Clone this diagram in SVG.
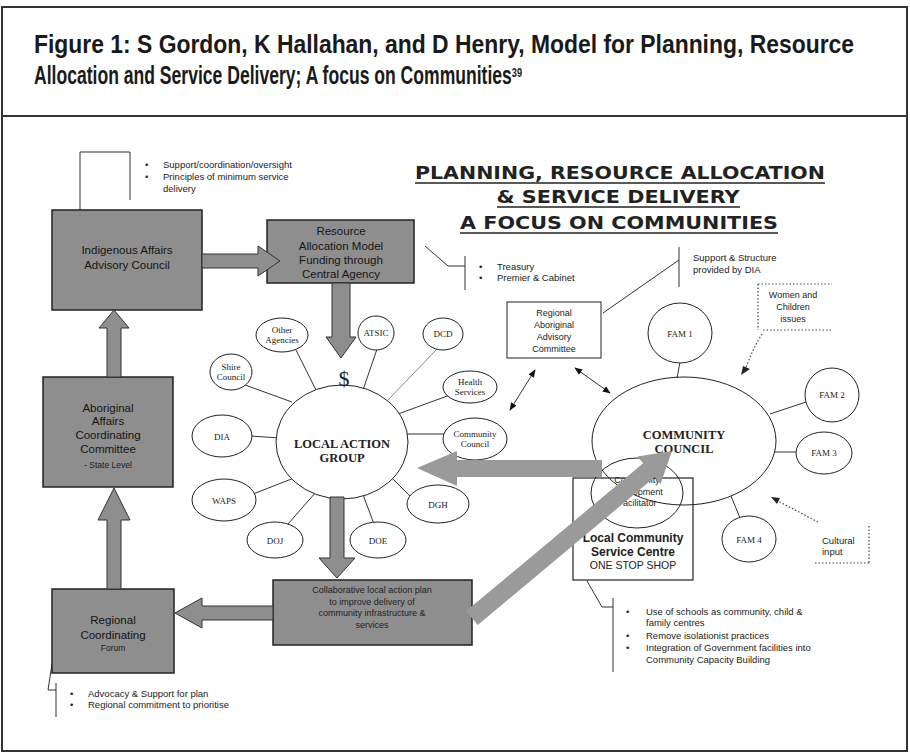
<svg xmlns="http://www.w3.org/2000/svg" width="910" height="752" viewBox="0 0 910 752">
<defs>
<style>
.ttl{font-family:"Liberation Sans Narrow","Liberation Sans",Arial,sans-serif;font-weight:bold;font-size:25px;fill:#1a1a1a}
.big{font-family:"DejaVu Sans",Verdana,sans-serif;font-weight:bold;font-size:18px;fill:#222;text-anchor:middle}
.bx{fill:#8e8e8e;stroke:#222;stroke-width:1.5}
.bt{font-family:"Liberation Sans",Arial,sans-serif;font-size:11.5px;fill:#151515;text-anchor:middle}
.st{font-family:"Liberation Sans",Arial,sans-serif;font-size:8.5px;fill:#1c1c1c;text-anchor:middle}
.sm{font-family:"Liberation Sans",Arial,sans-serif;font-size:9.5px;fill:#222}
.smc{font-family:"Liberation Sans",Arial,sans-serif;font-size:9px;fill:#222;text-anchor:middle}
.sat{fill:#fff;stroke:#222;stroke-width:1}
.ser{font-family:"Liberation Serif","Times New Roman",serif;font-size:9px;fill:#222;text-anchor:middle}
.serb{font-family:"Liberation Serif","Times New Roman",serif;font-size:12.5px;font-weight:bold;fill:#222;text-anchor:middle}
.ln{stroke:#333;stroke-width:1;fill:none}
.dot{stroke:#444;stroke-width:1.2;stroke-dasharray:1.5 2;fill:none}
.ga{fill:#8e8e8e;stroke:#333;stroke-width:1}
.gb{fill:#9a9a9a;stroke:none}
</style>
<marker id="ah" viewBox="0 0 10 10" refX="9" refY="5" markerWidth="8" markerHeight="8" markerUnits="userSpaceOnUse" orient="auto-start-reverse"><path d="M0,1 L10,5 L0,9 z" fill="#111"/></marker>
</defs>
<rect x="0" y="0" width="910" height="752" fill="#fff"/>
<rect x="2" y="7" width="905" height="744" fill="none" stroke="#333" stroke-width="2"/>
<line x1="2" y1="116" x2="907" y2="116" stroke="#333" stroke-width="2"/>
<g id="title">
<text class="ttl" x="34" y="53" textLength="820" lengthAdjust="spacingAndGlyphs">Figure 1: S Gordon, K Hallahan, and D Henry, Model for Planning, Resource</text>
<text class="ttl" x="34" y="84" textLength="488" lengthAdjust="spacingAndGlyphs">Allocation and Service Delivery; A focus on Communities<tspan font-size="13" baseline-shift="super">39</tspan></text>
</g>
<g id="heading">
<text class="big" x="620" y="179" textLength="410" lengthAdjust="spacingAndGlyphs">PLANNING, RESOURCE ALLOCATION</text>
<line x1="415" y1="183" x2="825" y2="183" stroke="#222" stroke-width="1.5"/>
<text class="big" x="618" y="203" textLength="243" lengthAdjust="spacingAndGlyphs">&amp; SERVICE DELIVERY</text>
<line x1="497" y1="207" x2="740" y2="207" stroke="#222" stroke-width="1.5"/>
<text class="big" x="619" y="229" textLength="318" lengthAdjust="spacingAndGlyphs">A FOCUS ON COMMUNITIES</text>
<line x1="460" y1="233" x2="778" y2="233" stroke="#222" stroke-width="1.5"/>
</g>
<g id="connectors">
<path class="ln" d="M80,210 V152 H130 V200"/>
<path class="ln" d="M425,246 L448,266 H465 M465,256 V290"/>
<path class="ln" d="M603,313 L679,260 M679,247 V287"/>
<path class="ln" d="M587,581 L602,607 H613 M613,598 V672"/>
<path class="ln" d="M52,664 L48,690 H56 M56,683 V717"/>
<path class="ln" d="M296,350 L317,392"/>
<path class="ln" d="M377,349 L363,390"/>
<path d="M437,349 L388,400" stroke="#888" stroke-width="1" fill="none"/>
<path class="ln" d="M245,385 L292,402"/>
<path class="ln" d="M450,395 L398,414"/>
<path class="ln" d="M445,434 L405,434"/>
<path class="ln" d="M250,436 L280,438"/>
<path class="ln" d="M253,494 L294,478"/>
<path class="ln" d="M288,524 L316,492"/>
<path class="ln" d="M374,524 L362,492"/>
<path class="ln" d="M414,500 L390,476"/>
<path class="ln" d="M680,362 L677,378"/>
<path class="ln" d="M806,402 L770,414"/>
<path class="ln" d="M796,452 L775,452"/>
<path class="ln" d="M740,518 L731,496"/>
<line class="ln" x1="535" y1="370" x2="510" y2="410" marker-start="url(#ah)" marker-end="url(#ah)"/>
<line class="ln" x1="575" y1="368" x2="610" y2="393" marker-start="url(#ah)" marker-end="url(#ah)"/>
<path class="dot" d="M762,334 Q752,350 746,368"/>
<path d="M741,375 L743,366 L750,369 z" fill="#222"/>
<path class="dot" d="M818,522 L778,501"/>
<path d="M771,497 L780,498 L777,504 z" fill="#222"/>
</g>
<g id="indigenous">
<rect class="bx" x="52" y="210" width="150" height="100"/>
<text class="bt" x="127" y="254">Indigenous Affairs</text>
<text class="bt" x="127" y="269">Advisory Council</text>
</g>
<g id="resource">
<rect class="bx" x="267" y="220" width="147" height="63"/>
<text class="bt" x="341" y="235">Resource</text>
<text class="bt" x="341" y="250">Allocation Model</text>
<text class="bt" x="341" y="264">Funding through</text>
<text class="bt" x="341" y="278">Central Agency</text>
</g>
<g id="aboriginal">
<rect class="bx" x="43" y="377" width="130" height="110"/>
<text class="bt" x="108" y="412" font-size="12">Aboriginal</text>
<text class="bt" x="108" y="425" font-size="12">Affairs</text>
<text class="bt" x="108" y="439" font-size="12">Coordinating</text>
<text class="bt" x="108" y="453" font-size="12">Committee</text>
<text class="st" x="108" y="468">- State Level</text>
</g>
<g id="regional">
<rect class="bx" x="52" y="589" width="122" height="84"/>
<text class="bt" x="113" y="624" font-size="12">Regional</text>
<text class="bt" x="113" y="639" font-size="12">Coordinating</text>
<text class="st" x="113" y="651">Forum</text>
</g>
<g id="collaborative">
<rect class="bx" x="273" y="580" width="199" height="65"/>
<text class="smc" x="372" y="593">Collaborative local action plan</text>
<text class="smc" x="372" y="605">to improve delivery of</text>
<text class="smc" x="372" y="616">community infrastructure &amp; </text>
<text class="smc" x="372" y="628">services</text>
</g>
<g id="lag">
<ellipse class="sat" cx="342" cy="442" rx="66" ry="57"/>
<text class="serb" x="342" y="448">LOCAL ACTION</text>
<text class="serb" x="342" y="462">GROUP</text>
<text x="344" y="386" font-family="Liberation Serif,serif" font-size="22" fill="#222" text-anchor="middle">$</text>
</g>
<g id="other"><ellipse class="sat" cx="282" cy="335" rx="26" ry="17"/><text class="ser" x="282" y="333" font-size="8">Other</text><text class="ser" x="282" y="343" font-size="8">Agencies</text></g>
<g id="atsic"><ellipse class="sat" cx="376" cy="333" rx="18" ry="17"/><text class="ser" x="376" y="336">ATSIC</text></g>
<g id="dcd"><ellipse class="sat" cx="443" cy="334" rx="20" ry="16"/><text class="ser" x="443" y="337">DCD</text></g>
<g id="shire"><ellipse class="sat" cx="231" cy="372" rx="21" ry="18"/><text class="ser" x="231" y="370" font-size="8">Shire</text><text class="ser" x="231" y="380" font-size="8">Council</text></g>
<g id="health"><ellipse class="sat" cx="470" cy="387" rx="27" ry="16"/><text class="ser" x="470" y="385" font-size="8">Health</text><text class="ser" x="470" y="395" font-size="8">Services</text></g>
<g id="commcouncil"><ellipse class="sat" cx="475" cy="439" rx="32" ry="21"/><text class="ser" x="475" y="437" font-size="8">Community</text><text class="ser" x="475" y="447" font-size="8">Council</text></g>
<g id="dia"><ellipse class="sat" cx="222" cy="436" rx="30" ry="21"/><text class="ser" x="222" y="440">DIA</text></g>
<g id="waps"><ellipse class="sat" cx="224" cy="500" rx="32" ry="21"/><text class="ser" x="224" y="504">WAPS</text></g>
<g id="doj"><ellipse class="sat" cx="275" cy="540" rx="28" ry="18"/><text class="ser" x="275" y="544">DOJ</text></g>
<g id="doe"><ellipse class="sat" cx="378" cy="540" rx="28" ry="18"/><text class="ser" x="378" y="544">DOE</text></g>
<g id="dgh"><ellipse class="sat" cx="438" cy="504" rx="31" ry="19"/><text class="ser" x="438" y="508">DGH</text></g>
<g id="raac">
<rect x="507" y="302" width="94" height="56" fill="#fff" stroke="#222" stroke-width="1"/>
<text class="smc" x="554" y="316">Regional</text>
<text class="smc" x="554" y="328">Aboriginal</text>
<text class="smc" x="554" y="340">Advisory</text>
<text class="smc" x="554" y="352">Committee</text>
</g>
<g id="community">
<ellipse cx="684" cy="441" rx="92" ry="64" fill="none" stroke="#222" stroke-width="1"/>
<text class="serb" x="684" y="439">COMMUNITY</text>
<text class="serb" x="684" y="453">COUNCIL</text>
</g>
<g id="fam1"><ellipse class="sat" cx="680" cy="333" rx="32" ry="30"/><text class="ser" x="680" y="337">FAM 1</text></g>
<g id="fam2"><ellipse class="sat" cx="832" cy="395" rx="27" ry="27"/><text class="ser" x="832" y="398">FAM 2</text></g>
<g id="fam3"><ellipse class="sat" cx="824" cy="453" rx="28" ry="21"/><text class="ser" x="824" y="456">FAM 3</text></g>
<g id="fam4"><ellipse class="sat" cx="749" cy="539" rx="27" ry="23"/><text class="ser" x="749" y="543">FAM 4</text></g>
<g id="facilitator">
<ellipse cx="637" cy="493" rx="46" ry="35" fill="none" stroke="#222" stroke-width="1"/>
<text class="smc" x="637" y="483">Community</text>
<text class="smc" x="637" y="495">development</text>
<text class="smc" x="637" y="506">Facilitator</text>
</g>
<g id="lcsc">
<rect x="573" y="478" width="120" height="102" fill="none" stroke="#222" stroke-width="1.2"/>
<text x="633" y="542" font-family="Liberation Sans,Arial,sans-serif" font-weight="bold" font-size="12" fill="#222" text-anchor="middle">Local Community</text>
<text x="633" y="556" font-family="Liberation Sans,Arial,sans-serif" font-weight="bold" font-size="12" fill="#222" text-anchor="middle">Service Centre</text>
<text x="633" y="569" font-family="Liberation Sans,Arial,sans-serif" font-size="10.5" fill="#222" text-anchor="middle">ONE STOP SHOP</text>
</g>
<g id="women">
<path class="dot" d="M758,284 H832 M758,284 V330 M763,330 H832"/>
<text class="smc" x="793" y="298">Women and</text>
<text class="smc" x="793" y="310">Children</text>
<text class="smc" x="793" y="322">issues</text>
</g>
<g id="cultural">
<path class="dot" d="M869,526 V563 M815,563 H869"/>
<text class="sm" x="822" y="544" font-size="9">Cultural</text>
<text class="sm" x="822" y="555" font-size="9">input</text>
</g>
<g id="notes">
<text class="sm" x="145" y="168">•</text><text class="sm" x="163" y="168">Support/coordination/oversight</text>
<text class="sm" x="145" y="180">•</text><text class="sm" x="163" y="180">Principles of minimum service</text>
<text class="sm" x="163" y="192">delivery</text>
<text class="sm" x="479" y="270">•</text><text class="sm" x="497" y="270">Treasury</text>
<text class="sm" x="479" y="281">•</text><text class="sm" x="497" y="281">Premier &amp; Cabinet</text>
<text class="sm" x="693" y="261" font-size="9">Support &amp; Structure</text>
<text class="sm" x="693" y="273" font-size="9">provided by DIA</text>
<text class="sm" x="626" y="615">•</text><text class="sm" x="646" y="615">Use of schools as community, child &amp;</text>
<text class="sm" x="646" y="626">family centres</text>
<text class="sm" x="626" y="639">•</text><text class="sm" x="646" y="639">Remove isolationist practices</text>
<text class="sm" x="626" y="651">•</text><text class="sm" x="646" y="651">Integration of Government facilities into</text>
<text class="sm" x="646" y="663">Community Capacity Building</text>
<text class="sm" x="70" y="697">•</text><text class="sm" x="88" y="697">Advocacy &amp; Support for plan</text>
<text class="sm" x="70" y="708">•</text><text class="sm" x="88" y="708">Regional commitment to prioritise</text>
</g>
<g id="arrows">
<polygon class="ga" points="202,254 258,254 258,246 280,261 258,276 258,268 202,268"/>
<polygon class="ga" points="332,283 350,283 350,337 356,337 341,358 326,337 332,337"/>
<polygon class="ga" points="330,497 344,497 344,558 355,558 337,578 319,558 330,558"/>
<polygon class="ga" points="273,606 202,606 202,598 175,613 202,628 202,620 273,620"/>
<polygon class="ga" points="107,589 107,520 98,520 114,488 130,520 121,520 121,589"/>
<polygon class="ga" points="107,377 107,328 99,328 114,310 129,328 121,328 121,377"/>
<polygon class="gb" points="602,460 457,460 457,451 417,468 457,486 457,477 602,477"/>
<polygon class="gb" points="466.2,611.1 643.2,463.3 637.5,456.4 672,451 660.5,484 654.8,477.1 477.8,624.9"/>
</g>
</svg>
